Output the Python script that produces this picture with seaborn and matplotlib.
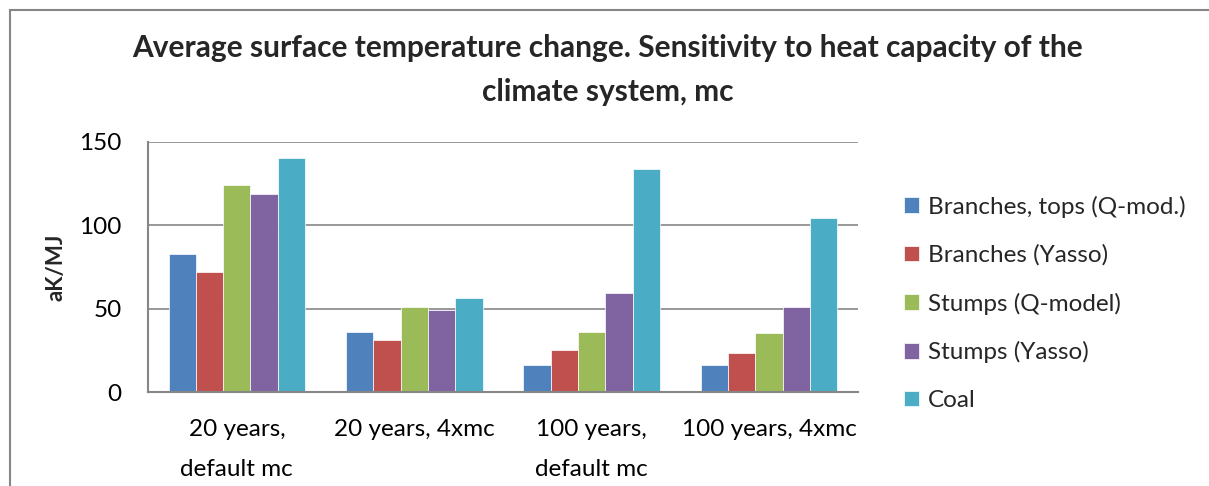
import matplotlib
matplotlib.use("Agg")
import matplotlib.pyplot as plt
import seaborn as sns
import pandas as pd
from matplotlib.patches import Rectangle

categories = ["20 years,\ndefault mc", "20 years, 4xmc", "100 years,\ndefault mc", "100 years, 4xmc"]
series = ["Branches, tops (Q-mod.)", "Branches (Yasso)", "Stumps (Q-model)", "Stumps (Yasso)", "Coal"]
branches_tops_q = [83, 36, 16.5, 16.5]
branches_yasso = [72, 31, 25.5, 23.5]
stumps_q = [124, 51, 36, 35.5]
stumps_yasso = [118.5, 49, 59.5, 51]
coal = [140.5, 56.5, 134, 104.5]
colors = ["#4F81BD", "#C0504D", "#9BBB59", "#8064A2", "#4BACC6"]

values = [branches_tops_q, branches_yasso, stumps_q, stumps_yasso, coal]
rows = []
for s, vals in zip(series, values):
    for c, v in zip(categories, vals):
        rows.append({"category": c, "series": s, "value": v})
df = pd.DataFrame(rows)

sns.set_theme(style="white")
plt.rcParams['font.family'] = ['Lato', 'DejaVu Sans']

FS = 17.5

fig = plt.figure(figsize=(12.09, 4.86), dpi=100)
ax = fig.add_axes([0.1225, 0.193, 0.587, 0.515])

sns.barplot(data=df, x="category", y="value", hue="series", order=categories,
            hue_order=series, palette=colors, width=0.77, ax=ax,
            edgecolor="white", linewidth=0.5, saturation=1)

ax.set_ylim(0, 150)
ax.set_yticks([0, 50, 100, 150])
ax.yaxis.grid(True, color="#868686", linewidth=1.2)
ax.set_axisbelow(True)
for side in ["top", "right"]:
    ax.spines[side].set_visible(False)
for side in ["left", "bottom"]:
    ax.spines[side].set_color("#868686")
    ax.spines[side].set_linewidth(1.5)
ax.tick_params(axis="x", labelsize=FS, colors="black", length=0, pad=19)
ax.tick_params(axis="y", labelsize=FS, colors="black", length=0, pad=19)
for lbl in ax.get_xticklabels():
    lbl.set_linespacing(2.15)
ax.set_xlabel("")
ax.set_ylabel("aK/MJ", fontsize=16, fontweight="bold", labelpad=9)

fig.text(608/1209, 1 - 48/486, "Average surface temperature change. Sensitivity to heat capacity of the",
         fontsize=21.5, fontweight="bold", ha="center", va="center")
fig.text(608/1209, 1 - 92/486, "climate system, mc",
         fontsize=21.5, fontweight="bold", ha="center", va="center")

leg = ax.legend(loc="center left", bbox_to_anchor=(1.035, 0.355), frameon=False,
                fontsize=FS, handlelength=0.6, handleheight=0.6, labelspacing=1.1,
                handletextpad=0.35)

fig.patches.append(Rectangle((10/1209, -0.1), 1.2, (486-10)/486 + 0.1, transform=fig.transFigure,
                             fill=False, edgecolor="#868686", linewidth=1.5))

fig.savefig("out.png", dpi=100)
